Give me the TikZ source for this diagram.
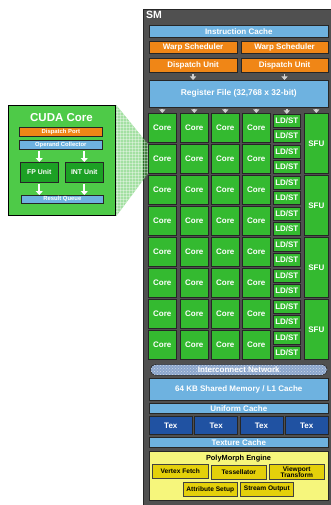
\documentclass[tikz,border=0pt]{standalone}
\usepackage{fontspec}
\setmainfont{Liberation Sans}
\usetikzlibrary{arrows.meta,patterns,backgrounds}
\definecolor{smgray}{RGB}{80,80,80}
\definecolor{smedge}{RGB}{38,38,38}
\definecolor{cacheblue}{RGB}{110,178,224}
\definecolor{schedorange}{RGB}{240,134,22}
\definecolor{coregreen}{RGB}{52,186,48}
\definecolor{cudagreen}{RGB}{78,202,72}
\definecolor{unitgreen}{RGB}{28,160,36}
\definecolor{texblue}{RGB}{32,82,162}
\definecolor{netblue}{RGB}{140,166,204}
\definecolor{polyyellow}{RGB}{246,246,124}
\definecolor{unityellow}{RGB}{228,208,10}
\definecolor{arrowgray}{RGB}{208,208,208}

\tikzset{
  blk/.style={draw=smedge, line width=0.6pt, inner sep=0pt, anchor=north west,
    text=white, font=\bfseries\fontsize{8}{8.5}\selectfont},
  cachebar/.style={blk, fill=cacheblue},
  schedbar/.style={blk, fill=schedorange},
  corecell/.style={blk, fill=coregreen, minimum width=28pt, minimum height=29pt},
  ldstcell/.style={blk, fill=coregreen, minimum width=27pt, minimum height=13pt},
  sfucell/.style={blk, fill=coregreen, minimum width=24pt, minimum height=60pt},
  texcell/.style={blk, fill=texblue, minimum width=43pt, minimum height=18pt},
  polyunit/.style={blk, fill=unityellow, draw=black!75, text=black, align=center,
    font=\bfseries\fontsize{6.6}{6.2}\selectfont},
  smallbar/.style={blk, font=\bfseries\fontsize{5.9}{6}\selectfont},
  downarr/.style={draw=arrowgray, line width=1.8pt, shorten <=1pt,
    -{Triangle[width=6pt,length=3.5pt]}},
  whitearr/.style={draw=white, line width=2pt, shorten <=1pt,
    -{Triangle[width=7pt,length=4pt]}},
}

\begin{document}
\begin{tikzpicture}[x=1pt,y=-1pt]
  \useasboundingbox (0,0) rectangle (331,505);

  % SM front end
  \node[anchor=north west, inner sep=0pt, text=white,
    font=\bfseries\fontsize{10.5}{11}\selectfont] (smlabel) at (146,11) {SM};
  \node[cachebar, minimum width=179pt, minimum height=12pt] (icache) at (149,25) {Instruction Cache};
  \node[schedbar, minimum width=87.5pt, minimum height=12pt] (warp1) at (149,41) {Warp Scheduler};
  \node[schedbar, minimum width=87.5pt, minimum height=12pt] (warp2) at (240.5,41) {Warp Scheduler};
  \node[schedbar, minimum width=87.5pt, minimum height=14pt] (disp1) at (149,58) {Dispatch Unit};
  \node[schedbar, minimum width=87.5pt, minimum height=14pt] (disp2) at (240.5,58) {Dispatch Unit};
  \node[cachebar, minimum width=179pt, minimum height=27pt,
    font=\bfseries\fontsize{8.4}{9}\selectfont] (regfile) at (149,80) {Register File (32,768 x 32-bit)};
  \foreach \d in {disp1,disp2}
    \draw[downarr] (\d.south) -- (\d.south |- regfile.north);

  % cores, load/store units, SFUs
  \foreach \r in {1,...,8} {
    \foreach \c/\x in {1/148,2/180,3/211,4/242}
      \node[corecell] (c\r\c) at (\x,{113+31*(\r-1)}) {Core};
    \node[ldstcell] (lsa\r) at (273,{114+31*(\r-1)}) {LD/ST};
    \node[ldstcell] (lsb\r) at (273,{129+31*(\r-1)}) {LD/ST};
  }
  \foreach \k in {1,...,4}
    \node[sfucell] (sfu\k) at (304,{113+62*(\k-1)}) {SFU};
  \foreach \n in {c11,c12,c13,c14,lsa1,sfu1}
    \draw[downarr] (regfile.south -| \n.north) -- (\n.north);

  % memory side
  \node[blk, fill=netblue, rounded corners=5.5pt, minimum width=177pt, minimum height=11pt,
    postaction={pattern=crosshatch dots, pattern color=white!55!netblue}] (icnet) at (150,364) {Interconnect Network};
  \node[cachebar, minimum width=179pt, minimum height=22pt] (shmem) at (149,378) {64 KB Shared Memory / L1 Cache};
  \node[cachebar, minimum width=179pt, minimum height=10pt] (ucache) at (149,403) {Uniform Cache};
  \foreach \i in {0,...,3}
    \node[texcell] (tex\i) at ({149+45.33*\i},416) {Tex};
  \node[cachebar, minimum width=179pt, minimum height=10pt] (tcache) at (149,437) {Texture Cache};

  % polymorph engine
  \node[blk, fill=polyyellow, minimum width=179pt, minimum height=49pt] (poly) at (149,451) {};
  \node[anchor=north, inner sep=0pt, text=black,
    font=\bfseries\fontsize{7.4}{8}\selectfont] (polytitle) at (238.5,455) {PolyMorph Engine};
  \node[polyunit, minimum width=56pt, minimum height=14pt] (vfetch) at (152,464) {Vertex Fetch};
  \node[polyunit, minimum width=55pt, minimum height=14pt] (tess) at (211,465) {Tessellator};
  \node[polyunit, minimum width=55pt, minimum height=15pt] (vport) at (269,464) {Viewport\\Transform};
  \node[polyunit, minimum width=54pt, minimum height=14pt] (attrib) at (183,482) {Attribute Setup};
  \node[polyunit, minimum width=53pt, minimum height=14pt] (stream) at (240,482) {Stream Output};

  % zoomed CUDA core
  \node[draw=black, line width=1.2pt, fill=cudagreen, anchor=north west, inner sep=0pt,
    minimum width=107pt, minimum height=110pt] (cuda) at (8,105) {};
  \node[inner sep=0pt, text=white, font=\bfseries\fontsize{11.5}{12}\selectfont] (cudatitle) at (61.5,118) {CUDA Core};
  \node[smallbar, fill=schedorange, minimum width=83pt, minimum height=9pt] (dport) at (19,127) {Dispatch Port};
  \node[smallbar, fill=cacheblue, minimum width=83pt, minimum height=9pt] (opcoll) at (19,140) {Operand Collector};
  \node[blk, fill=unitgreen, minimum width=38pt, minimum height=20pt,
    font=\bfseries\fontsize{6.9}{7}\selectfont] (fpunit) at (20,162) {FP Unit};
  \node[blk, fill=unitgreen, minimum width=38pt, minimum height=20pt,
    font=\bfseries\fontsize{6.9}{7}\selectfont] (intunit) at (65,162) {INT Unit};
  \node[smallbar, fill=cacheblue, minimum width=82pt, minimum height=8pt] (resq) at (21,195) {Result Queue};
  \foreach \u in {fpunit,intunit} {
    \draw[whitearr] (opcoll.south -| \u.north) -- (\u.north);
    \draw[whitearr] (\u.south) -- (\u.south |- resq.north);
  }

  \begin{scope}[on background layer]
    \node[fill=smgray, draw=smedge, line width=1pt, anchor=north west, inner sep=0pt,
      minimum width=195pt, minimum height=505pt] (smframe) at (143,9) {};
    \fill[coregreen, opacity=.45] (cuda.north east) -- (c21.north west) -- (c21.south west) -- (cuda.south east) -- cycle;
    \fill[pattern=grid, pattern color=white, opacity=.35] (cuda.north east) -- (c21.north west) -- (c21.south west) -- (cuda.south east) -- cycle;
  \end{scope}
\end{tikzpicture}
\end{document}
